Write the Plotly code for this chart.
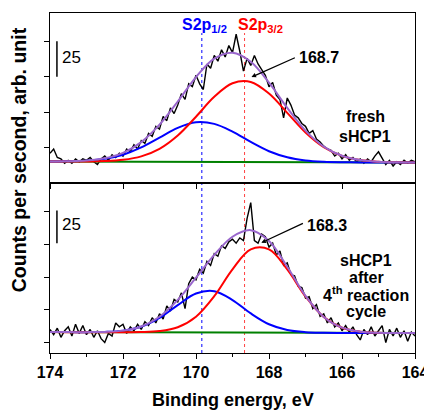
import plotly.graph_objects as go

# ===================== data =====================
# raw spectra, 0.1 eV step from 174.0 down to 164.0 eV
energy = [round(174.0 - 0.1 * i, 1) for i in range(101)]

fresh_counts = [
    21, 24, 18, 17, 14, 16, 14, 17, 15, 17, 16,
    18, 15, 13, 17, 19, 16, 20, 18, 21, 19,
    24, 22, 27, 24, 30, 28, 35, 33, 40, 38,
    47, 44, 53, 49, 55, 63, 59, 70, 68, 76,
    70, 66, 84, 81, 90, 86, 94, 89, 97, 92,
    105, 93, 79, 88, 83, 90, 84, 80, 76, 68,
    71, 62, 59, 46, 60, 55, 48, 46, 42, 40,
    35, 37, 31, 29, 26, 24, 23, 19, 21, 17,
    20, 16, 18, 15, 17, 14, 17, 15, 19, 22,
    17, 13, 16, 12, 15, 13, 16, 14, 16, 15,
]

cycled_counts = [
    10, 6, 11, 4, 9, 12, 5, 14, 7, 13, 6,
    10, 4, 9, 3, 0, 7, 5, 15, 12, 14,
    7, 12, 9, 14, 10, 16, 13, 19, 15, 22,
    18, 28, 24, 33, 31, 38, 26, 45, 50, 48,
    56, 53, 62, 59, 68, 66, 74, 72, 77, 79,
    76, 80, 78, 95, 107, 78, 76, 83, 81, 73,
    76, 67, 70, 59, 61, 52, 51, 43, 42, 34,
    35, 26, 29, 20, 22, 15, 19, 12, 15, 9,
    13, 8, 12, 6, 2, 10, 6, 12, 5, 9,
    13, 0, 10, 5, 11, 4, 9, 1, 8, 5,
]

# fitted components, 0.5 eV step from 174.0 down to 164.0 eV
fit_energy = [174.0, 173.5, 173.0, 172.5, 172.0, 171.5, 171.0, 170.5, 170.0, 169.5, 169.0,
              168.5, 168.0, 167.5, 167.0, 166.5, 166.0, 165.5, 165.0, 164.5, 164.0]

fresh_base = [15.2, 15.16, 15.12, 15.08, 15.04, 15.0, 14.96, 14.92, 14.88, 14.84, 14.8,
              14.76, 14.72, 14.68, 14.64, 14.6, 14.56, 14.52, 14.48, 14.44, 14.4]
fresh_s2p32 = [0, 0.02, 0.09, 0.38, 1.31, 3.77, 9.14, 18.6, 31.9, 46.0, 55.6,
               56.6, 48.4, 34.8, 21.0, 10.7, 4.57, 1.64, 0.5, 0.13, 0.03]
fresh_s2p12 = [0.04, 0.18, 0.66, 1.98, 4.91, 10.1, 17.1, 24.0, 28.0, 26.9, 21.5,
               14.2, 7.7, 3.5, 1.31, 0.41, 0.1, 0.02, 0, 0, 0]

cycled_base = [8.0, 7.96, 7.92, 7.88, 7.84, 7.8, 7.76, 7.72, 7.68, 7.64, 7.6,
               7.56, 7.52, 7.48, 7.44, 7.4, 7.36, 7.32, 7.28, 7.24, 7.2]
cycled_s2p32 = [0, 0, 0, 0, 0.03, 0.19, 1.0, 3.99, 12.1, 27.8, 48.4,
                63.7, 63.7, 48.4, 27.8, 12.1, 3.99, 1.0, 0.19, 0.03, 0]
cycled_s2p12 = [0, 0.01, 0.04, 0.27, 1.24, 4.28, 11.0, 20.9, 29.8, 31.6, 24.9,
                14.7, 6.45, 2.1, 0.51, 0.1, 0.01, 0, 0, 0, 0]

S2P12_POS = 169.84
S2P32_POS = 168.67

FONT = "Arial, Liberation Sans, sans-serif"
PURPLE = "#9966cc"

fig = go.Figure()


def add_panel(counts, base, p32, p12, xa, ya):
    red = [b + r for b, r in zip(base, p32)]
    blue = [b + s for b, s in zip(base, p12)]
    envelope = [b + r + s for b, r, s in zip(base, p32, p12)]
    fig.add_trace(go.Scatter(x=energy, y=counts, mode="lines",
                             line=dict(color="black", width=1.4), xaxis=xa, yaxis=ya))
    fig.add_trace(go.Scatter(x=fit_energy, y=base, mode="lines",
                             line=dict(color="#008000", width=2), xaxis=xa, yaxis=ya))
    fig.add_trace(go.Scatter(x=fit_energy, y=blue, mode="lines", line_shape="spline",
                             line=dict(color="#0000ff", width=2), xaxis=xa, yaxis=ya))
    fig.add_trace(go.Scatter(x=fit_energy, y=red, mode="lines", line_shape="spline",
                             line=dict(color="#ff0000", width=2), xaxis=xa, yaxis=ya))
    fig.add_trace(go.Scatter(x=fit_energy, y=envelope, mode="lines", line_shape="spline",
                             line=dict(color=PURPLE, width=2), xaxis=xa, yaxis=ya))


add_panel(fresh_counts, fresh_base, fresh_s2p32, fresh_s2p12, "x", "y")
add_panel(cycled_counts, cycled_base, cycled_s2p32, cycled_s2p12, "x2", "y2")

frame = dict(showline=True, mirror=True, linecolor="black", linewidth=1.3,
             showgrid=False, zeroline=False, ticks="outside", ticklen=5,
             tickwidth=1.3, tickcolor="black", automargin=False)

# page body has an 8px margin, so the figure is 8px smaller than the window
fig.update_layout(
    template="none",
    width=424, height=402,
    margin=dict(l=42, r=17, t=5, b=57),
    paper_bgcolor="white", plot_bgcolor="white",
    showlegend=False,
    font=dict(family=FONT, color="black"),
    xaxis=dict(domain=[0, 1], anchor="y", range=[174, 164], tick0=164, dtick=2,
               showticklabels=False, **frame),
    yaxis=dict(domain=[0.5, 1], anchor="x", range=[0, 120], tickvals=[25, 50, 75, 100],
               showticklabels=False, **frame),
    xaxis2=dict(domain=[0, 1], anchor="y2", range=[174, 164], tick0=164, dtick=2,
                tickfont=dict(family=FONT, size=16, color="black", weight="bold"),
                minor=dict(dtick=1, ticks="outside", ticklen=3, tickwidth=1.3, tickcolor="black"),
                **frame),
    yaxis2=dict(domain=[0, 0.5], anchor="x2", range=[-8, 122], tickvals=[0, 25, 50, 75, 100],
                showticklabels=False, **frame),
)

# peak position guides
for pos, col in [(S2P12_POS, "#0000ff"), (S2P32_POS, "#ff4040")]:
    fig.add_shape(type="line", xref="x2", yref="paper", x0=pos, x1=pos, y0=0, y1=0.941,
                  line=dict(color=col, width=1, dash="dot"), layer="below")

# 25-count scale bars
fig.add_shape(type="line", xref="x", yref="y", x0=173.81, x1=173.81, y0=75, y1=100,
              line=dict(color="black", width=1.5))
fig.add_shape(type="line", xref="x2", yref="y2", x0=173.81, x1=173.81, y0=76, y1=101,
              line=dict(color="black", width=1.5))

ann = []
bold16 = dict(family=FONT, size=16, color="black")
ann.append(dict(x=169.78, y=111.5, xref="x", yref="y", text="<b>S2p<sub>1/2</sub></b>",
                showarrow=False, font=dict(family=FONT, size=16, color="#0000ff")))
ann.append(dict(x=168.22, y=111.5, xref="x", yref="y", text="<b>S2p<sub>3/2</sub></b>",
                showarrow=False, font=dict(family=FONT, size=16, color="#ff0000")))
ann.append(dict(x=173.42, y=88.4, xref="x", yref="y", text="25", showarrow=False,
                font=dict(family=FONT, size=17, color="black")))
ann.append(dict(x=173.42, y=89.9, xref="x2", yref="y2", text="25", showarrow=False,
                font=dict(family=FONT, size=17, color="black")))
ann.append(dict(x=166.62, y=88.9, xref="x", yref="y", text="<b>168.7</b>", showarrow=False,
                font=bold16))
ann.append(dict(x=168.48, y=74.8, ax=167.25, ay=88.9, xref="x", yref="y", axref="x", ayref="y",
                text="", showarrow=True, arrowhead=2, arrowsize=0.7, arrowwidth=1.3,
                arrowcolor="black"))
ann.append(dict(x=166.41, y=89.3, xref="x2", yref="y2", text="<b>168.3</b>", showarrow=False,
                font=bold16))
ann.append(dict(x=168.21, y=76.3, ax=167.03, ay=91.6, xref="x2", yref="y2", axref="x2",
                ayref="y2", text="", showarrow=True, arrowhead=2, arrowsize=0.7,
                arrowwidth=1.3, arrowcolor="black"))
for txt, yy in [("fresh", 46.6), ("sHCP1", 32.5)]:
    ann.append(dict(x=165.36, y=yy, xref="x", yref="y", text=f"<b>{txt}</b>",
                    showarrow=False, font=bold16))
for txt, yy in [("sHCP1", 63.1), ("after", 50.1), ("4<sup>th</sup> reaction", 37.1),
                ("cycle", 24.1)]:
    ann.append(dict(x=165.33, y=yy, xref="x2", yref="y2", text=f"<b>{txt}</b>",
                    showarrow=False, font=bold16))
ann.append(dict(x=0.5, y=-0.138, xref="paper", yref="paper", xanchor="center",
                yanchor="middle", text="<b>Binding energy, eV</b>",
                showarrow=False, font=dict(family=FONT, size=18, color="black")))
ann.append(dict(x=-0.084, y=0.568, xref="paper", yref="paper", xanchor="center",
                yanchor="middle", text="<b>Counts per second, arb. unit</b>", textangle=-90,
                showarrow=False, font=dict(family=FONT, size=19.5, color="black")))
fig.update_layout(annotations=ann)

fig.write_html("out.html")
